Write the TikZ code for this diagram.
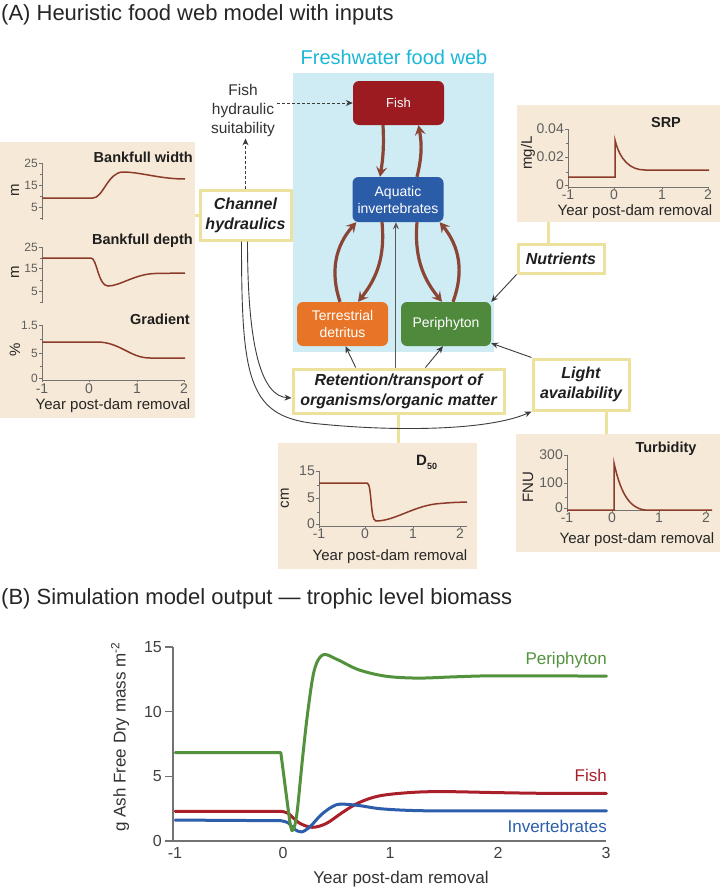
\documentclass[tikz,border=0pt]{standalone}
\usepackage{fontspec}
\setmainfont{Liberation Sans}
\usetikzlibrary{arrows.meta,calc}
\definecolor{beige}{RGB}{246,233,215}
\definecolor{yel}{RGB}{236,226,158}
\definecolor{webblue}{RGB}{207,235,244}
\definecolor{cyantxt}{RGB}{27,183,216}
\definecolor{fishred}{RGB}{155,27,32}
\definecolor{invblue}{RGB}{43,92,168}
\definecolor{detorange}{RGB}{232,116,40}
\definecolor{perigreen}{RGB}{78,137,60}
\definecolor{brownarr}{RGB}{139,69,52}
\definecolor{curvebrown}{RGB}{140,58,42}
\definecolor{axgrey}{RGB}{115,115,115}
\definecolor{lblgrey}{RGB}{95,95,95}
\definecolor{conn}{RGB}{60,60,60}
\definecolor{bgreen}{RGB}{83,146,60}
\definecolor{bred}{RGB}{170,32,42}
\definecolor{bblue}{RGB}{44,94,172}
\begin{document}
\begin{tikzpicture}[x=1pt,y=-1pt,
  fwnode/.style={rounded corners=6pt, minimum width=91pt, minimum height=44pt, text=white, align=center, font=\fontsize{14}{17}\selectfont, inner sep=0pt},
  ybox/.style={draw=yel, line width=3pt, fill=white, align=center, text=black!88, font=\fontsize{16}{20}\selectfont\bfseries\itshape, inner sep=0pt},
  panel/.style={fill=beige, inner sep=0pt, anchor=north west},
  fwarr/.style={draw=brownarr, line width=3.2pt, -{Stealth[length=10pt,width=11pt,inset=4pt]}},
  connarr/.style={draw=conn, line width=0.9pt, -{Stealth[length=7pt,width=6pt]}},
  dasharr/.style={draw=conn, line width=0.9pt, dash pattern=on 3pt off 2pt, -{Stealth[length=7pt,width=6pt]}},
  yline/.style={draw=yel, line width=3pt},
  axisl/.style={draw=axgrey, line width=0.8pt},
  curvel/.style={draw=curvebrown, line width=1.5pt},
  yticklbl/.style={text=lblgrey, font=\fontsize{12}{12}\selectfont, inner sep=1pt, anchor=east},
  xticklbl/.style={text=lblgrey, font=\fontsize{14}{14}\selectfont, inner sep=1pt, anchor=north},
  ptitle/.style={font=\fontsize{14.5}{15}\selectfont\bfseries, inner sep=0pt, text=black!88},
  xlab/.style={font=\fontsize{15}{15}\selectfont, inner sep=0pt, text=black!85},
  ulab/.style={font=\fontsize{15}{15}\selectfont, inner sep=0pt, text=black!85, rotate=90},
  bline/.style={line width=3pt, line cap=round, line join=round}
]
\useasboundingbox (0,0) rectangle (720,891);
\fill[white] (0,0) rectangle (720,891);

% titles
\node[anchor=base west, font=\fontsize{22}{26}\selectfont, inner sep=0pt, text=black!85] (titleA) at (1,21) {(A) Heuristic food web model with inputs};
\node[anchor=base west, font=\fontsize{22}{26}\selectfont, inner sep=0pt, text=black!85] (titleB) at (1,604) {(B) Simulation model output — trophic level biomass};

% panels
\node[panel, minimum width=195pt, minimum height=276pt] (lpan) at (0,142) {};
\node[panel, minimum width=203pt, minimum height=117pt] (srp) at (517,105) {};
\node[panel, minimum width=199pt, minimum height=126pt] (d50) at (278,443) {};
\node[panel, minimum width=204pt, minimum height=118pt] (turb) at (516,434) {};

% food web background
\node[fill=webblue, minimum width=201pt, minimum height=279pt, anchor=north west, inner sep=0pt] (webbg) at (293,73) {};
\node[anchor=base, text=cyantxt, font=\fontsize{20}{24}\selectfont, inner sep=0pt] (webtitle) at (394,65) {Freshwater food web};

% food web nodes
\node[fwnode, fill=fishred, font=\fontsize{13}{16}\selectfont] (fish) at (398.5,103) {Fish};
\node[fwnode, fill=invblue, minimum height=45pt] (aqua) at (398,199.5) {Aquatic\\invertebrates};
\node[fwnode, fill=detorange] (terr) at (342.5,324) {Terrestrial\\detritus};
\node[fwnode, fill=perigreen, minimum width=90pt] (peri) at (446,324) {Periphyton};

% input boxes
\node[ybox, minimum width=91pt, minimum height=50pt] (chan) at (245.5,215) {Channel\\hydraulics};
\node[ybox, minimum width=211pt, minimum height=44pt] (ret) at (398.5,391) {Retention/transport of\\organisms/organic matter};
\node[ybox, minimum width=96pt, minimum height=51pt] (light) at (581,384.5) {Light\\availability};
\node[ybox, minimum width=86pt, minimum height=29pt] (nutr) at (561,258.5) {Nutrients};

\node[align=center, font=\fontsize{15.5}{19}\selectfont, text=black!80, inner sep=2pt] (fhs) at (243,110) {Fish\\hydraulic\\suitability};

% yellow links
\draw[yline] (chan.west) -- (chan.west -| lpan.east);
\coordinate (nutrlink) at (548,0);
\draw[yline] (nutr.north -| nutrlink) -- (srp.south -| nutrlink);
\coordinate (lightlink) at (606,0);
\draw[yline] (light.south -| lightlink) -- (turb.north -| lightlink);
\draw[yline] (ret.south) -- (ret.south |- d50.north);

% food web arrows
\draw[fwarr] ($(fish.south)+(-15.5,0)$) to[bend left=6] ($(aqua.north)+(-18,0)$);
\draw[fwarr] ($(aqua.north)+(19,0)$) to[bend right=12] ($(fish.south)+(20,0)$);
\draw[fwarr] ($(terr.north)+(-2.5,0)$) to[bend left=30] ($(aqua.south west)+(4,0)$);
\draw[fwarr] ($(aqua.south)+(-16,0)$) to[bend left=22] ($(terr.north)+(15.5,0)$);
\draw[fwarr] ($(aqua.south)+(19,0)$) to[bend right=22] ($(peri.north)+(-4,0)$);
\draw[fwarr] ($(peri.north)+(7,0)$) to[bend right=30] ($(aqua.south east)+(-4,0)$);

% grey connectors
\draw[connarr] (nutr.south west) -- (peri.north east);
\draw[connarr] (light.north west) -- ($(peri.south east)+(0,-3)$);
\coordinate (rA) at ($(ret.north west)!0.30!(ret.north east)$);
\coordinate (rB) at ($(ret.north west)!0.626!(ret.north east)$);
\coordinate (rC) at ($(ret.north west)!0.488!(ret.north east)$);
\draw[connarr] (rA) -- ($(terr.south)+(3,0)$);
\draw[connarr] (rB) -- ($(peri.south)+(-3,0)$);
\draw[connarr, draw=conn!85] (rC) -- (rC |- aqua.south);
\draw[connarr] ($(chan.south)+(2,0)$) .. controls +(0,110) and +(-29,-2) .. ($(ret.west)+(0,7)$);
\coordinate (via) at (320,424);
\draw[connarr] ($(chan.south)+(-4,0)$) .. controls +(0,140) and (248,418) .. (via) .. controls (400,432) and (490,430) .. (light.south west);
\draw[dasharr] (chan.north) -- (chan.north |- fhs.south);
\draw[dasharr] (fhs.east |- fish.west) -- (fish.west);

% ---------- left panel: plot 1
\draw[axisl] (42,163) -- (42,220);
\foreach \y/\l [count=\i] in {163/25,185/15,207/5} {\draw[axisl] (42,\y) -- (39,\y); \node[yticklbl] (pay\i) at (39,\y) {\l};}
\foreach \y in {174,196,218} {\draw[axisl] (42,\y) -- (40,\y);}
\node[ulab] (pam) at (15,190) {m};
\node[ptitle, anchor=east] (pat) at (193,157) {Bankfull width};
\draw[curvel] (42,198) -- (93,198) .. controls (103,198) and (108,172) .. (123,172) .. controls (140,172) and (160,179) .. (185,179);
% plot 2
\draw[axisl] (42,247) -- (42,303);
\foreach \y/\l [count=\i] in {247/25,268/15,291/5} {\draw[axisl] (42,\y) -- (39,\y); \node[yticklbl] (pby\i) at (39,\y) {\l};}
\foreach \y in {258,280,302} {\draw[axisl] (42,\y) -- (40,\y);}
\node[ulab] (pbm) at (15,272) {m};
\node[ptitle, anchor=east] (pbt) at (193,241) {Bankfull depth};
\draw[curvel] (42,258) -- (91,258) .. controls (97,258) and (98,286) .. (108,286) .. controls (120,286) and (135,274) .. (155,273.5) -- (185,273);
% plot 3
\draw[axisl] (42,325) -- (42,380) -- (185,380);
\foreach \y/\l [count=\i] in {325/1.5,353/5,378/0} {\draw[axisl] (42,\y) -- (39,\y); \node[yticklbl] (pcy\i) at (39,\y) {\l};}
\foreach \y in {339,366} {\draw[axisl] (42,\y) -- (40,\y);}
\foreach \x/\l [count=\i] in {42/-1,89/0,137/1,184/2} {\draw[axisl] (\x,380) -- (\x,382); \node[xticklbl] (pcx\i) at (\x,383) {\l};}
\node[ulab] (pcm) at (15,350) {\%};
\node[ptitle, anchor=east] (pct) at (190,319) {Gradient};
\node[xlab] (pcxl) at (113,406) {Year post-dam removal};
\draw[curvel] (42,342) -- (97,342) .. controls (120,342) and (130,358) .. (150,358) -- (185,358);

% ---------- SRP panel
\draw[axisl] (568,129) -- (568,187) -- (709,187);
\foreach \y/\l [count=\i] in {129/0.04,157/0.02,185/0} {\draw[axisl] (568,\y) -- (565,\y); \node[yticklbl, font=\fontsize{14}{14}\selectfont] (sy\i) at (565,\y) {\l};}
\foreach \y in {143,172} {\draw[axisl] (568,\y) -- (566,\y);}
\foreach \x/\l [count=\i] in {568/-1,614/0,662/1,708/2} {\draw[axisl] (\x,187) -- (\x,189); \node[xticklbl] (sx\i) at (\x,189) {\l};}
\node[ulab] (sm) at (528,153) {mg/L};
\node[ptitle] (st) at (666,123) {SRP};
\node[xlab] (sxl) at (635,212) {Year post-dam removal};
\draw[curvel] (568,177) -- (615,177) -- (615,140) .. controls (620,160) and (630,170) .. (645,170) -- (709,170);

% ---------- D50 panel
\draw[axisl] (319,471) -- (319,526) -- (467,526);
\foreach \y/\l [count=\i] in {471/15,498/5,524/0} {\draw[axisl] (319,\y) -- (316,\y); \node[yticklbl, font=\fontsize{14}{14}\selectfont] (dy\i) at (316,\y) {\l};}
\foreach \y in {485,512} {\draw[axisl] (319,\y) -- (317,\y);}
\foreach \x/\l [count=\i] in {319/-1,365/0,413/1,460/2} {\draw[axisl] (\x,526) -- (\x,528); \node[xticklbl] (dx\i) at (\x,528) {\l};}
\node[ulab] (dm) at (285,498) {cm};
\node[anchor=base west, inner sep=0pt, font=\fontsize{15}{15}\selectfont\bfseries, text=black!88] (dt) at (416,465) {D\raisebox{-4pt}{\fontsize{9}{9}\selectfont 50}};
\node[xlab] (dxl) at (390,557) {Year post-dam removal};
\draw[curvel] (319,483) -- (367,483) .. controls (372,483) and (370,521) .. (376,521) .. controls (395,521) and (415,505) .. (440,503.5) .. controls (452,502.5) .. (467,502);

% ---------- Turbidity panel
\draw[axisl] (567,455) -- (567,510) -- (712,510);
\foreach \y/\l [count=\i] in {455/300,483/100,508/0} {\draw[axisl] (567,\y) -- (564,\y); \node[yticklbl, font=\fontsize{14}{14}\selectfont] (ty\i) at (564,\y) {\l};}
\foreach \y in {469,497} {\draw[axisl] (567,\y) -- (565,\y);}
\foreach \x/\l [count=\i] in {567/-1,612/0,659/1,706/2} {\draw[axisl] (\x,510) -- (\x,512); \node[xticklbl] (tx\i) at (\x,512) {\l};}
\node[ulab] (tm) at (528,487) {FNU};
\node[ptitle] (tt) at (666,449) {Turbidity};
\node[xlab] (txl) at (637,540) {Year post-dam removal};
\draw[curvel] (567,510) -- (614,510) -- (614,463) .. controls (620,490) and (628,508) .. (645,510) -- (712,510);

% ---------- Part B chart
\draw[draw=axgrey, line width=1.2pt] (173,647) -- (173,841) -- (606,841);
\foreach \y/\l [count=\i] in {647/15,711.7/10,776.3/5,841/0} {\draw[draw=axgrey, line width=1.2pt] (173,\y) -- (165,\y); \node[anchor=east, inner sep=0pt, font=\fontsize{16}{16}\selectfont, text=black!75] (by\i) at (162,\y) {\l};}
\foreach \x/\l [count=\i] in {175/-1,283/0,390/1,498/2,606/3} {\node[anchor=north, inner sep=0pt, font=\fontsize{16}{16}\selectfont, text=black!75] (bx\i) at (\x,847) {\l};}
\node[font=\fontsize{17}{17}\selectfont, inner sep=0pt, text=black!80] (bxl) at (401,879) {Year post-dam removal};
\node[rotate=90, font=\fontsize{17}{17}\selectfont, inner sep=0pt, text=black!80] (byl) at (120,737) {g Ash Free Dry mass m\textsuperscript{-2}};
\begin{scope}[shift={(283pt,-841pt)}, x=107.8pt, y=12.93pt]
\draw[bline, draw=bred] (-1,2.3) -- (-0.02,2.3) -- plot[smooth, tension=0.55] coordinates {(-0.02,2.3) (0.05,2.12) (0.15,1.4) (0.27,1.06) (0.4,1.35) (0.55,2.2) (0.7,2.95) (0.9,3.5) (1.2,3.76) (1.5,3.82) (2,3.74) (2.5,3.68) (3,3.68)};
\draw[bline, draw=bblue] (-1,1.62) -- (-0.02,1.57) -- plot[smooth, tension=0.55] coordinates {(-0.02,1.57) (0.05,1.4) (0.1,0.95) (0.17,0.7) (0.25,1.1) (0.35,2.0) (0.45,2.62) (0.53,2.85) (0.7,2.75) (0.9,2.5) (1.2,2.36) (1.6,2.33) (3,2.33)};
\draw[bline, draw=bgreen] (-1,6.83) -- (-0.02,6.83) -- plot[smooth, tension=0.55] coordinates {(-0.02,6.83) (0.03,3.6) (0.07,1.2) (0.095,0.85) (0.13,2.2) (0.18,6.3) (0.23,10) (0.29,13.2) (0.37,14.4) (0.5,14.05) (0.7,13.25) (0.95,12.75) (1.25,12.6) (1.6,12.7) (2.0,12.78) (3,12.75)};
\end{scope}
\node[anchor=east, inner sep=0pt, text=bgreen, font=\fontsize{17}{17}\selectfont] (lperi) at (607,660) {Periphyton};
\node[anchor=east, inner sep=0pt, text=bred, font=\fontsize{17}{17}\selectfont] (lfish) at (607,775) {Fish};
\node[anchor=east, inner sep=0pt, text=bblue, font=\fontsize{17}{17}\selectfont] (linv) at (607,826) {Invertebrates};
\end{tikzpicture}
\end{document}
